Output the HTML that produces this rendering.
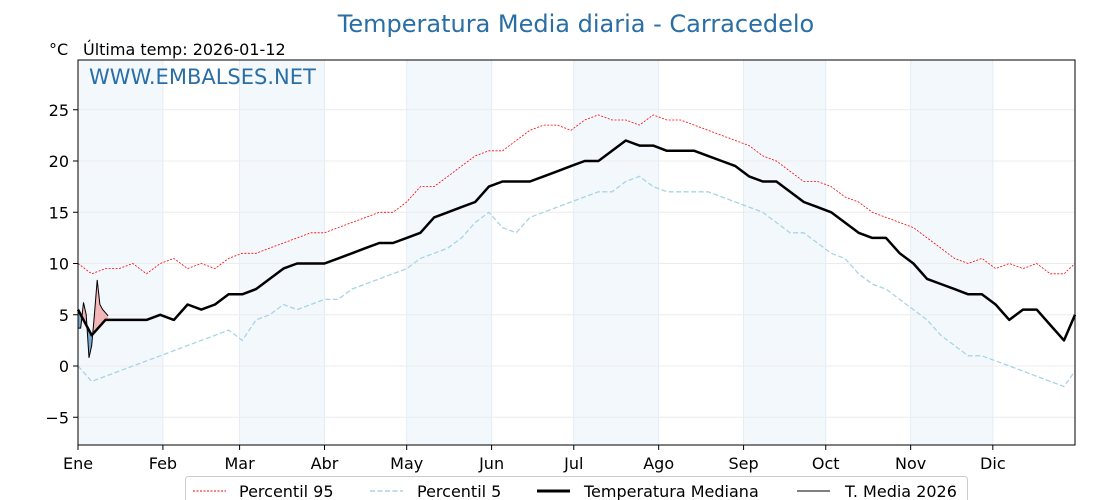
<!DOCTYPE html>
<html><head><meta charset="utf-8"><style>
body{margin:0;background:#fff;}
svg{display:block;font-family:"DejaVu Sans","Liberation Sans",sans-serif;}
</style></head><body>
<svg id="chart" width="1120" height="500" xmlns="http://www.w3.org/2000/svg">
<text x="576" y="32" text-anchor="middle" font-size="24" fill="#2a6ea6">Temperatura Media diaria - Carracedelo</text>
<text x="49" y="55" font-size="16">°C</text>
<text x="83" y="55" font-size="16">Última temp: 2026-01-12</text>
<g id="bands"></g><g id="grid"></g><g id="series"></g>
<rect x="78" y="60" width="997" height="385" fill="none" stroke="#000" stroke-width="1"/>
<text x="89" y="84" font-size="21" fill="#2a6ea6">WWW.EMBALSES.NET</text>
<g id="axes"></g>
<g>
<rect x="185.5" y="476.5" width="782" height="30" rx="3" fill="#fff" stroke="#ccc"/>
<line x1="193" y1="491" x2="226" y2="491" stroke="red" stroke-width="1" stroke-dasharray="2,1.5"/>
<text x="239" y="497" font-size="16">Percentil 95</text>
<line x1="370" y1="491" x2="403" y2="491" stroke="#a8d4e4" stroke-width="1.5" stroke-dasharray="5,2.5"/>
<text x="417" y="497" font-size="16">Percentil 5</text>
<line x1="537" y1="491" x2="570" y2="491" stroke="#000" stroke-width="3"/>
<text x="584" y="497" font-size="16">Temperatura Mediana</text>
<line x1="797" y1="491" x2="830" y2="491" stroke="#000" stroke-width="1"/>
<text x="845" y="497" font-size="16">T. Media 2026</text>
</g>
</svg>
<script>
const days=[0,5,10,15,20,25,30,35,40,45,50,55,60,65,70,75,80,85,90,95,100,105,110,115,120,125,130,135,140,145,150,155,160,165,170,175,180,185,190,195,200,205,210,215,220,225,230,235,240,245,250,255,260,265,270,275,280,285,290,295,300,305,310,315,320,325,330,335,340,345,350,355,360,364];
const median=[5.5,3,4.5,4.5,4.5,4.5,5,4.5,6,5.5,6,7,7,7.5,8.5,9.5,10,10,10,10.5,11,11.5,12,12,12.5,13,14.5,15,15.5,16,17.5,18,18,18,18.5,19,19.5,20,20,21,22,21.5,21.5,21,21,21,20.5,20,19.5,18.5,18,18,17,16,15.5,15,14,13,12.5,12.5,11,10,8.5,8,7.5,7,7,6,4.5,5.5,5.5,4,2.5,5];
const p95=[10,9,9.5,9.5,10,9,10,10.5,9.5,10,9.5,10.5,11,11,11.5,12,12.5,13,13,13.5,14,14.5,15,15,16,17.5,17.5,18.5,19.5,20.5,21,21,22,23,23.5,23.5,23,24,24.5,24,24,23.5,24.5,24,24,23.5,23,22.5,22,21.5,20.5,20,19,18,18,17.5,16.5,16,15,14.5,14,13.5,12.5,11.5,10.5,10,10.5,9.5,10,9.5,10,9,9,10];
const p5=[0,-1.5,-1,-0.5,0,0.5,1,1.5,2,2.5,3,3.5,2.5,4.5,5,6,5.5,6,6.5,6.5,7.5,8,8.5,9,9.5,10.5,11,11.5,12.5,14,15,13.5,13,14.5,15,15.5,16,16.5,17,17,18,18.5,17.5,17,17,17,17,16.5,16,15.5,15,14,13,13,12,11,10.5,9,8,7.5,6.5,5.5,4.5,3,2,1,1,0.5,0,-0.5,-1,-1.5,-2,-0.5];
const days2026=[0,1,2,3,4,5,6,7,8,9,10,11];
const t2026=[3.7,3.7,6.2,5,0.8,2,5,8.4,6,5.5,5.2,4.9];
const monthLabels=["Ene","Feb","Mar","Abr","May","Jun","Jul","Ago","Sep","Oct","Nov","Dic"];
const monthStarts=[0,31,59,90,120,151,181,212,243,273,304,334];
const yTicks=[-5,0,5,10,15,20,25];

const NS="http://www.w3.org/2000/svg";
const X0=78,X1=1075,Y0=60,Y1=445;
const xs=d=>X0+d*(X1-X0)/364;
const ys=v=>366-v*10.25;
function mk(tag,attrs,parent){const e=document.createElementNS(NS,tag);for(const k in attrs)e.setAttribute(k,attrs[k]);parent.appendChild(e);return e;}
const bands=document.getElementById('bands'),grid=document.getElementById('grid'),ser=document.getElementById('series'),axes=document.getElementById('axes');
monthStarts.forEach((m,i)=>{
  const next=i<11?monthStarts[i+1]:365;
  if(i%2===0){const r=mk('rect',{x:xs(m),y:Y0,width:xs(next)-xs(m),height:Y1-Y0,fill:'#f3f8fc'},bands);
  
  }
  const g=mk('line',{x1:xs(m),x2:xs(m),y1:Y0,y2:Y1,stroke:'#e4edf4','stroke-width':1},grid);
  
  
  const t=mk('line',{x1:xs(m),x2:xs(m),y1:Y1,y2:Y1+5,stroke:'#000'},axes);
  
  
  const l=mk('text',{x:xs(m),y:Y1+24,'text-anchor':'middle','font-size':16},axes);
  l.textContent=monthLabels[i];
  
  
});
yTicks.forEach(v=>{
  const g=mk('line',{x1:X0,x2:X1,y1:ys(v),y2:ys(v),stroke:'#ececec','stroke-width':1},grid);
  
  
  const t=mk('line',{x1:X0-5,x2:X0,y1:ys(v),y2:ys(v),stroke:'#000'},axes);
  
  
  const l=mk('text',{x:X0-9,y:ys(v)+6,'text-anchor':'end','font-size':16},axes);
  l.textContent=v<0?'\u2212'+(-v):String(v);
  
  
});
const pts=(dd,vv)=>dd.map((d,i)=>xs(d).toFixed(1)+','+ys(vv[i]).toFixed(1)).join(' ');
// median at 2026 days (evaluate from median array by lookup of surrounding samples)
function medAt(d){for(let i=0;i<days.length-1;i++){if(d>=days[i]&&d<=days[i+1]){const f=(d-days[i])/(days[i+1]-days[i]);return median[i]+f*(median[i+1]-median[i]);}}return median[median.length-1];}
for(let i=0;i<days2026.length-1;i++){
  const d0=days2026[i],d1=days2026[i+1],a0=t2026[i]-medAt(d0),a1=t2026[i+1]-medAt(d1);
  const poly=(p)=>{const e=mk('polygon',{points:p,stroke:'none'},ser);return e;};
  if(a0*a1>=0){
    const e=poly([xs(d0)+','+ys(t2026[i]),xs(d1)+','+ys(t2026[i+1]),xs(d1)+','+ys(medAt(d1)),xs(d0)+','+ys(medAt(d0))].join(' '));
    e.setAttribute('fill',(a0+a1)>=0?'#f2b4b4':'#7ba7cc');
    
    
  } else {
    const f=a0/(a0-a1),dc=d0+f*(d1-d0),vc=t2026[i]+f*(t2026[i+1]-t2026[i]);
    const e1=poly([xs(d0)+','+ys(t2026[i]),xs(dc)+','+ys(vc),xs(d0)+','+ys(medAt(d0))].join(' '));
    e1.setAttribute('fill',a0>0?'#f2b4b4':'#7ba7cc');
    
    
    const e2=poly([xs(dc)+','+ys(vc),xs(d1)+','+ys(t2026[i+1]),xs(d1)+','+ys(medAt(d1))].join(' '));
    e2.setAttribute('fill',a1>0?'#f2b4b4':'#7ba7cc');
    
    
  }
}
const l95=mk('polyline',{points:pts(days,p95),fill:'none',stroke:'red','stroke-width':0.8,'stroke-dasharray':'2,1.5'},ser);


const l5=mk('polyline',{points:pts(days,p5),fill:'none',stroke:'#a8d4e4','stroke-width':1.3,'stroke-dasharray':'5,2.5'},ser);


const lm=mk('polyline',{points:pts(days,median),fill:'none',stroke:'#000','stroke-width':2.5,'stroke-linejoin':'round'},ser);


const l26=mk('polyline',{points:pts(days2026,t2026),fill:'none',stroke:'#000','stroke-width':1},ser);


</script>
</body></html>
